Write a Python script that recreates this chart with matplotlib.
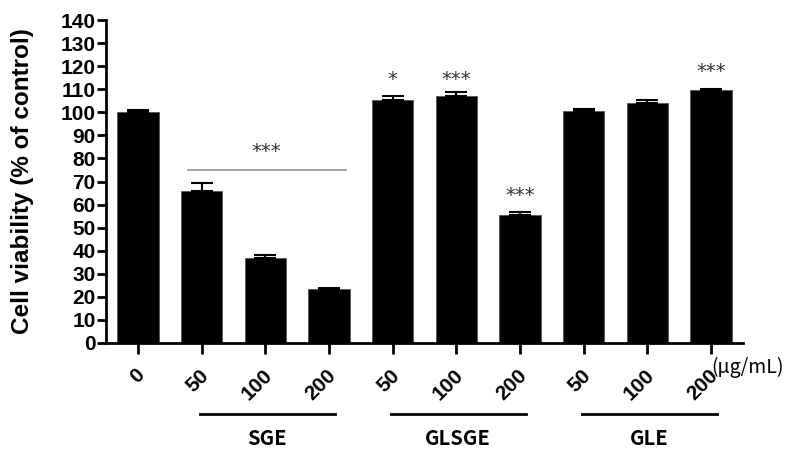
import matplotlib
matplotlib.use("Agg")
import matplotlib.pyplot as plt
import matplotlib.transforms as mtransforms

# data
doses = ["0", "50", "100", "200", "50", "100", "200", "50", "100", "200"]
viability = [100, 66, 37, 23.3, 105.5, 107, 55.5, 100.5, 104, 109.5]
sem = [1.0, 3.4, 1.2, 0.6, 1.5, 1.6, 1.4, 0.8, 1.5, 0.7]
groups = ["SGE", "GLSGE", "GLE"]
group_bars = [(1, 3), (4, 6), (7, 9)]
stars = {4: "*", 5: "***", 6: "***", 9: "***"}
stars_y = {4: 114.4, 5: 114.2, 6: 64, 9: 117.6}
sge_bracket_y = 75
sge_bracket_star_y = 83

plt.rcParams['font.family'] = ['Liberation Sans', 'DejaVu Sans']

fig = plt.figure(figsize=(7.86, 4.51), dpi=100)
ax = fig.add_axes([0.135, 0.2395, 0.81, 0.716])

x = list(range(len(viability)))
ax.bar(x, viability, width=0.65, color='black', edgecolor='#555555', linewidth=0.6, zorder=2)
ax.errorbar(x, viability, yerr=[[0] * len(sem), sem], fmt='none', ecolor='black',
            elinewidth=1.5, capsize=8, capthick=1.5, zorder=3)

ax.set_xlim(-0.5, 9.5)
ax.set_ylim(0, 140)
ax.set_yticks(range(0, 141, 10))
ax.spines['top'].set_visible(False)
ax.spines['right'].set_visible(False)
ax.spines['left'].set_linewidth(2)
ax.spines['bottom'].set_linewidth(2)
ax.tick_params(axis='y', length=6.5, width=2, pad=1, labelsize=15)
ax.tick_params(axis='x', length=8, width=2, pad=11, labelsize=15)
for lab in ax.get_yticklabels():
    lab.set_fontweight('bold')

ax.set_xticks(x)
ax.set_xticklabels(doses, fontweight='bold', rotation=45, ha='right', va='center',
                   rotation_mode='anchor')
shift = mtransforms.ScaledTranslation(4 / 100, -3 / 100, fig.dpi_scale_trans)
for lab in ax.get_xticklabels():
    lab.set_transform(lab.get_transform() + shift)
ax.set_ylabel("Cell viability (% of control)", fontsize=17.5, fontweight='bold', labelpad=19)

# significance marks
for i, s in stars.items():
    ax.text(i, stars_y[i], s, ha='center', va='center', fontsize=14,
            family='DejaVu Sans', color='#333333')
ax.plot([0.78, 3.27], [sge_bracket_y, sge_bracket_y], color='#909090', lw=1.2, zorder=1)
ax.text(2.02, sge_bracket_star_y, "***", ha='center', va='center', fontsize=14,
        family='DejaVu Sans', color='#333333')

# group lines below the axis
trans = mtransforms.blended_transform_factory(ax.transData, ax.transAxes)
for name, (a, b) in zip(groups, group_bars):
    ax.plot([a - 0.03, b + 0.09], [-0.22, -0.22], color='black', lw=2,
            transform=trans, clip_on=False)
    ax.text((a + b) / 2 + 0.03, -0.295, name, transform=trans, ha='center', va='center',
            fontsize=14.5, fontweight='bold', family=['Noto Sans CJK KR', 'DejaVu Sans'])

ax.text(9.0, -0.075, "(\u03bcg/mL)", transform=trans, ha='left', va='center',
        fontsize=14, family=['Noto Sans CJK KR', 'DejaVu Sans'])

fig.savefig("out.png", dpi=100)
